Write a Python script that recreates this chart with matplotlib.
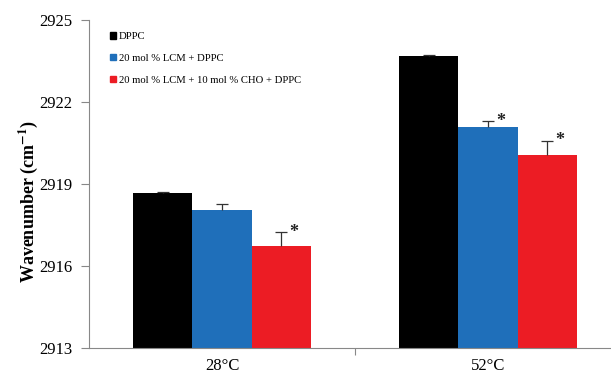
import numpy as np
import matplotlib.pyplot as plt
from matplotlib.patches import Patch

plt.rcParams['font.family'] = ['Liberation Serif', 'DejaVu Serif']
plt.rcParams['mathtext.fontset'] = 'stix'
plt.rcParams['mathtext.default'] = 'bf'

# data
temps = ['28°C', '52°C']
series = ['DPPC', '20 mol % LCM + DPPC', '20 mol % LCM + 10 mol % CHO + DPPC']
dppc = [2918.66, 2923.68]
lcm = [2918.04, 2921.07]
lcm_cho = [2916.73, 2920.06]
dppc_err = [0.03, 0.04]
lcm_err = [0.22, 0.23]
lcm_cho_err = [0.51, 0.52]
# asterisk marks (significance) per series
lcm_star = [False, True]
lcm_cho_star = [True, True]

colors = ['#000000', '#1f6fba', '#ec1c24']

fig = plt.figure(figsize=(6.11, 3.75), dpi=100)
ax = fig.add_axes([89 / 611, 27 / 375, 532 / 611, 328 / 375])

x = np.arange(len(temps))
w = 0.222
vals = [dppc, lcm, lcm_cho]
errs = [dppc_err, lcm_err, lcm_cho_err]
stars = [[False, False], lcm_star, lcm_cho_star]
base = 2913

for i in range(3):
    pos = x + (i - 1) * w
    heights = np.array(vals[i]) - base
    ax.bar(pos, heights, w, bottom=base, color=colors[i], label=series[i], zorder=2)
    eb = ax.errorbar(pos, vals[i], yerr=[np.zeros(2), errs[i]], fmt='none',
                     ecolor='#333333', elinewidth=0.9, capsize=4, capthick=0.9, zorder=3)
    # plus-only error bars: hide the lower caps
    eb[1][0].set_visible(False)
    for j in range(2):
        if stars[i][j]:
            ax.text(pos[j] + 0.047, vals[i][j] + errs[i][j], '*', fontsize=13,
                    fontweight='bold', ha='center', va='center', color='#222222')

ax.set_xlim(-0.5, 1.5)
ax.set_ylim(2913, 2925)
ax.set_yticks([2913, 2916, 2919, 2922, 2925])
ax.set_xticks([0.5], minor=False)
ax.set_xticklabels([''])
ax.set_xticks(x, minor=True)
ax.set_xticklabels(temps, minor=True, fontsize=12)
ax.tick_params(axis='x', which='minor', length=0, pad=7)
ax.tick_params(axis='x', which='major', length=5, color='#888888', width=0.8)
ax.tick_params(axis='y', length=6, color='#888888', width=0.8, labelsize=12, pad=6)

for s in ['top', 'right']:
    ax.spines[s].set_visible(False)
for s in ['left', 'bottom']:
    ax.spines[s].set_color('#888888')
    ax.spines[s].set_linewidth(0.8)

handles = [Patch(color=c) for c in colors]
fig.legend(handles, series, loc='upper left', bbox_to_anchor=(106 / 611, 1 - 28 / 375),
           frameon=False, fontsize=7.7, handlelength=0.5, handleheight=0.5,
           handletextpad=0.3, labelspacing=1.2, borderaxespad=0)

fig.text(28 / 611, 1 - 202 / 375, 'Wavenumber (cm$^{-1}$)', rotation=90,
         fontsize=13, fontweight='bold', ha='center', va='center')

fig.savefig('out.png', dpi=100)
